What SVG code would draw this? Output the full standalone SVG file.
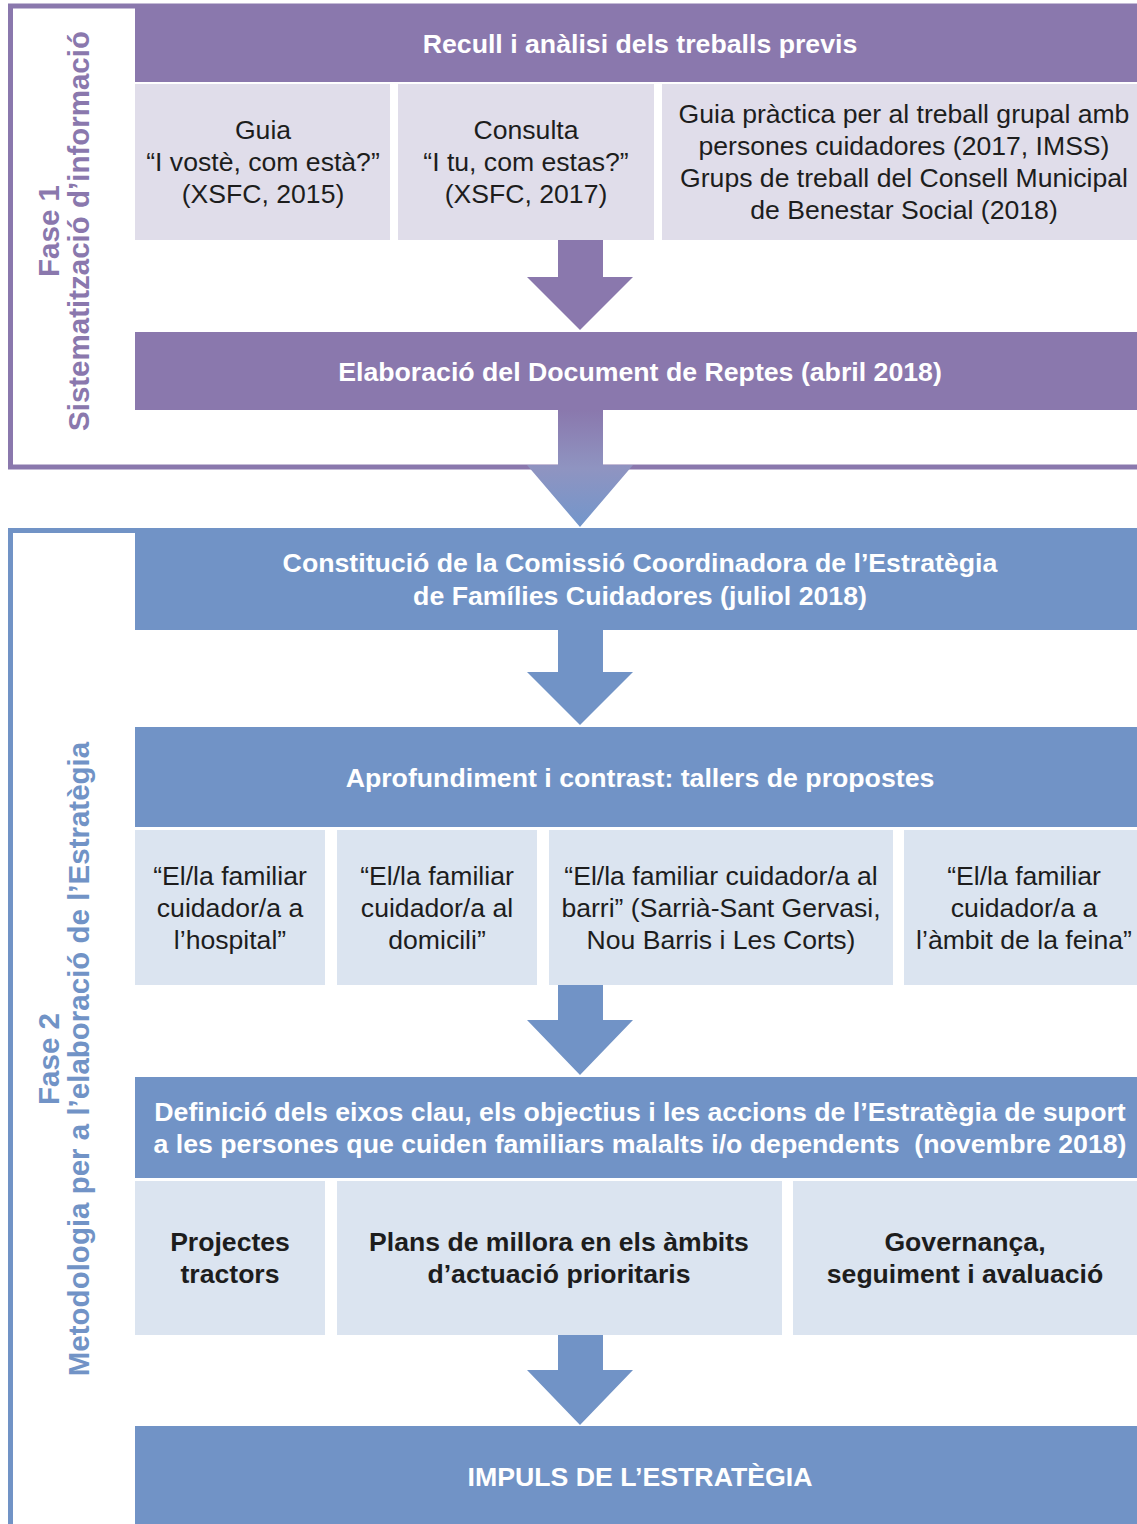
<svg xmlns="http://www.w3.org/2000/svg" width="1137" height="1524" viewBox="0 0 1137 1524">
<style>
.t{font-family:"Liberation Sans",Arial,sans-serif;text-anchor:middle}
.hd{font-weight:bold;font-size:26.7px;fill:#ffffff}
.bd{font-size:26.6px;fill:#1d1d1d}
.bb{font-size:26.6px;font-weight:bold;fill:#1d1d1d}
.vl{font-weight:bold;font-size:29.5px}
.p{fill:#8a78ad}
.pl{fill:#e0ddea}
.b{fill:#7193c6}
.bl{fill:#dbe4f0}
</style>
<defs>
<linearGradient id="g2" x1="0" y1="410" x2="0" y2="527" gradientUnits="userSpaceOnUse">
<stop offset="0" stop-color="#8a78ad"/>
<stop offset="0.5" stop-color="#8f94c1"/>
<stop offset="1" stop-color="#7296cb"/>
</linearGradient>
</defs>
<rect width="1137" height="1524" fill="#ffffff"/>

<g id="fase1">
<rect x="10.5" y="6" width="1200" height="461" fill="none" stroke="#8a78ad" stroke-width="5"/>
<text class="t vl" fill="#8a78ad" transform="translate(59,231) rotate(-90)">Fase 1</text>
<text class="t vl" fill="#8a78ad" transform="translate(89,231) rotate(-90)">Sistematització d’informació</text>
</g>
<g id="fase2">
<rect x="10.5" y="530.5" width="1200" height="1100" fill="none" stroke="#7193c6" stroke-width="5"/>
<text class="t vl" fill="#7193c6" transform="translate(59,1059) rotate(-90)">Fase 2</text>
<text class="t vl" fill="#7193c6" transform="translate(89,1059) rotate(-90)">Metodologia per a l’elaboració de l’Estratègia</text>
</g>

<g id="connectors">
<polygon class="p" points="558,240 603,240 603,277 633,277 580,330 527,277 558,277"/>
<polygon fill="url(#g2)" points="558,410 603,410 603,465 633,465 580,527 527,465 558,465"/>
<polygon class="b" points="558,630 603,630 603,672 633,672 580,725 527,672 558,672"/>
<polygon class="b" points="558,985 603,985 603,1020 633,1020 580,1075 527,1020 558,1020"/>
<polygon class="b" points="558,1335 603,1335 603,1370 633,1370 580,1425 527,1370 558,1370"/>
</g>

<g id="recull">
<rect class="p" x="135" y="4" width="1010" height="78"/>
<text class="t hd" x="640" y="53">Recull i anàlisi dels treballs previs</text>
</g>
<g id="guia">
<rect class="pl" x="135" y="84" width="255" height="156"/>
<text class="t bd" x="263" y="139">Guia</text>
<text class="t bd" x="263" y="171">“I vostè, com està?”</text>
<text class="t bd" x="263" y="203">(XSFC, 2015)</text>
</g>
<g id="consulta">
<rect class="pl" x="398" y="84" width="256" height="156"/>
<text class="t bd" x="526" y="139">Consulta</text>
<text class="t bd" x="526" y="171">“I tu, com estas?”</text>
<text class="t bd" x="526" y="203">(XSFC, 2017)</text>
</g>
<g id="guiapractica">
<rect class="pl" x="662" y="84" width="483" height="156"/>
<text class="t bd" x="904" y="123">Guia pràctica per al treball grupal amb</text>
<text class="t bd" x="904" y="155">persones cuidadores (2017, IMSS)</text>
<text class="t bd" x="904" y="187">Grups de treball del Consell Municipal</text>
<text class="t bd" x="904" y="219">de Benestar Social (2018)</text>
</g>
<g id="elaboracio">
<rect class="p" x="135" y="332" width="1010" height="78"/>
<text class="t hd" x="640" y="381">Elaboració del Document de Reptes (abril 2018)</text>
</g>

<g id="constitucio">
<rect class="b" x="135" y="533" width="1010" height="97"/>
<text class="t hd" x="640" y="572">Constitució de la Comissió Coordinadora de l’Estratègia</text>
<text class="t hd" x="640" y="605">de Famílies Cuidadores (juliol 2018)</text>
</g>
<g id="aprofundiment">
<rect class="b" x="135" y="727" width="1010" height="100"/>
<text class="t hd" x="640" y="787">Aprofundiment i contrast: tallers de propostes</text>
</g>
<g id="hospital">
<rect class="bl" x="135" y="830" width="190" height="155"/>
<text class="t bd" x="230" y="885">“El/la familiar</text>
<text class="t bd" x="230" y="917">cuidador/a a</text>
<text class="t bd" x="230" y="949">l’hospital”</text>
</g>
<g id="domicili">
<rect class="bl" x="337" y="830" width="200" height="155"/>
<text class="t bd" x="437" y="885">“El/la familiar</text>
<text class="t bd" x="437" y="917">cuidador/a al</text>
<text class="t bd" x="437" y="949">domicili”</text>
</g>
<g id="barri">
<rect class="bl" x="549" y="830" width="344" height="155"/>
<text class="t bd" x="721" y="885">“El/la familiar cuidador/a al</text>
<text class="t bd" x="721" y="917">barri” (Sarrià-Sant Gervasi,</text>
<text class="t bd" x="721" y="949">Nou Barris i Les Corts)</text>
</g>
<g id="feina">
<rect class="bl" x="904" y="830" width="241" height="155"/>
<text class="t bd" x="1024" y="885">“El/la familiar</text>
<text class="t bd" x="1024" y="917">cuidador/a a</text>
<text class="t bd" x="1024" y="949">l’àmbit de la feina”</text>
</g>
<g id="definicio">
<rect class="b" x="135" y="1077" width="1010" height="101"/>
<text class="t hd" x="640" y="1121">Definició dels eixos clau, els objectius i les accions de l’Estratègia de suport</text>
<text class="t hd" x="640" y="1153" style="white-space:pre">a les persones que cuiden familiars malalts i/o dependents  (novembre 2018)</text>
</g>
<g id="projectes">
<rect class="bl" x="135" y="1181" width="190" height="154"/>
<text class="t bb" x="230" y="1251">Projectes</text>
<text class="t bb" x="230" y="1283">tractors</text>
</g>
<g id="plans">
<rect class="bl" x="337" y="1181" width="445" height="154"/>
<text class="t bb" x="559" y="1251">Plans de millora en els àmbits</text>
<text class="t bb" x="559" y="1283">d’actuació prioritaris</text>
</g>
<g id="governanca">
<rect class="bl" x="793" y="1181" width="352" height="154"/>
<text class="t bb" x="965" y="1251">Governança,</text>
<text class="t bb" x="965" y="1283">seguiment i avaluació</text>
</g>
<g id="impuls">
<rect class="b" x="135" y="1426" width="1010" height="110"/>
<text class="t hd" x="640" y="1486">IMPULS DE L’ESTRATÈGIA</text>
</g>
</svg>
